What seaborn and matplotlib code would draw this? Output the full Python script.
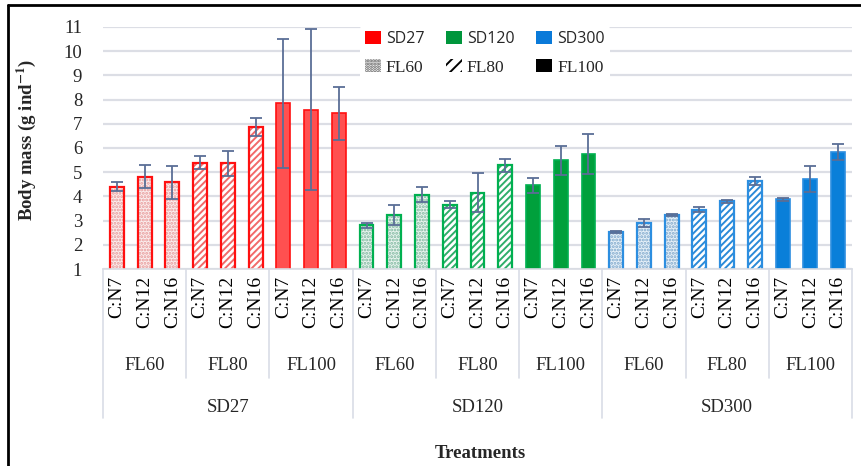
import numpy as np
import pandas as pd
import matplotlib
matplotlib.use("Agg")
import matplotlib.pyplot as plt
import seaborn as sns
from matplotlib.patches import Patch, Rectangle
from matplotlib.lines import Line2D

densities = ["SD27", "SD120", "SD300"]
feeding = ["FL60", "FL80", "FL100"]
cn_ratios = ["C:N7", "C:N12", "C:N16"]

sd27_mean = [4.40, 4.81, 4.58, 5.39, 5.37, 6.86, 7.85, 7.58, 7.43]
sd27_err = [0.18, 0.47, 0.67, 0.27, 0.51, 0.38, 2.67, 3.33, 1.10]
sd120_mean = [2.81, 3.23, 4.06, 3.66, 4.15, 5.28, 4.46, 5.49, 5.75]
sd120_err = [0.10, 0.40, 0.31, 0.15, 0.81, 0.28, 0.31, 0.61, 0.84]
sd300_mean = [2.52, 2.89, 3.23, 3.45, 3.80, 4.65, 3.88, 4.72, 5.83]
sd300_err = [0.05, 0.16, 0.04, 0.10, 0.07, 0.17, 0.05, 0.53, 0.33]

means = [sd27_mean, sd120_mean, sd300_mean]
errs = [sd27_err, sd120_err, sd300_err]

fill_cols = ["#FF5050", "#00A03C", "#0A7FD9"]
edge_cols = ["#FF1010", "#00B050", "#2C8EE0"]
dot_cols = ["#E89A9A", "#7FB8A0", "#7FA8CC"]
stripe_cols = ["#F26A6A", "#2FAE6A", "#2A8AD8"]
tint_cols = ["#FBEDED", "#E8F4EE", "#E6F0F8"]
legend_cols = ["#FF0000", "#00963C", "#0A7AD9"]

rows = []
for i, sd in enumerate(densities):
    for j, fl in enumerate(feeding):
        for k, cn in enumerate(cn_ratios):
            idx = j * 3 + k
            rows.append(dict(id=f"{sd}|{fl}|{cn}", sd=sd, fl=fl, cn=cn,
                             value=means[i][idx], err=errs[i][idx]))
df = pd.DataFrame(rows)
ids = list(df["id"])

sns.set_theme(style="white")
plt.rcParams["hatch.linewidth"] = 1.4
plt.rcParams["mathtext.fontset"] = "stix"
SERIF = ["Liberation Serif", "DejaVu Serif"]

W, H = 861, 466
fig = plt.figure(figsize=(W / 100, H / 100), dpi=100)
x0, x1, ytop, ybot = 103, 852, 27, 269
ax = fig.add_axes([x0 / W, 1 - ybot / H, (x1 - x0) / W, (ybot - ytop) / H])

pal = {r["id"]: fill_cols[densities.index(r["sd"])] for r in rows}
sns.barplot(data=df, x="id", y="value", hue="id", order=ids, hue_order=ids,
            palette=pal, width=0.5, saturation=1, errorbar=None,
            legend=False, ax=ax, zorder=2)

for p in list(ax.patches):
    c = p.get_x() + p.get_width() / 2
    idx = int(round(c))
    i = idx // 9
    j = (idx // 3) % 3
    if j == 2:
        p.set_facecolor(fill_cols[i])
        p.set_edgecolor(edge_cols[i])
        p.set_linewidth(1.2)
        continue
    if j == 1:
        p.set_facecolor("white")
        p.set_edgecolor(stripe_cols[i])
        p.set_hatch("/////")
    else:
        p.set_facecolor(tint_cols[i])
        p.set_edgecolor(dot_cols[i])
        p.set_hatch(".....")
    p.set_linewidth(0)
    outline = Rectangle((p.get_x(), p.get_y()), p.get_width(), p.get_height(),
                        facecolor="none", edgecolor=edge_cols[i], lw=1.6, zorder=2.5)
    ax.add_patch(outline)

pos = np.arange(len(ids))
ax.errorbar(pos, df["value"], yerr=df["err"], fmt="none", ecolor="#5A6E96",
            elinewidth=1.3, capsize=4, capthick=1.3, zorder=3)

ax.set_xlim(-0.5, len(ids) - 0.5)
ax.set_ylim(1, 11)
ax.set_yticks(range(1, 12))
ax.set_yticklabels([str(v) for v in range(1, 12)], family=SERIF, fontsize=13.5)
ax.tick_params(axis="y", length=0, pad=15)
ax.set_xticks([])
ax.set_xlabel("")
ax.set_ylabel("")
ax.grid(axis="y", color="#DCDEE5", linewidth=1.6)
ax.grid(axis="x", visible=False)
ax.set_axisbelow(True)
for s in ["top", "right", "left"]:
    ax.spines[s].set_visible(False)
ax.spines["bottom"].set_color("#D9DCE3")
ax.spines["bottom"].set_linewidth(1.2)

hpx = ybot - ytop
def fr(ypx):
    return (ybot - ypx) / hpx

tr = ax.get_xaxis_transform()
for n, r in enumerate(rows):
    ax.text(n, fr(276), r["cn"], rotation=90, ha="center", va="top",
            family=SERIF, fontsize=14, transform=tr, color="black")
for g in range(9):
    ax.text(g * 3 + 1, fr(365), feeding[g % 3], ha="center", va="center",
            family=SERIF, fontsize=13.5, transform=tr)
for s in range(3):
    ax.text(s * 9 + 4, fr(407), densities[s], ha="center", va="center",
            family=SERIF, fontsize=13.5, transform=tr)

sep_col = "#D9DDE6"
for b in range(0, 28, 3):
    xb = b - 0.5
    ylow = fr(418) if b % 9 == 0 else fr(378)
    ax.add_line(Line2D([xb, xb], [0, ylow], transform=tr, color=sep_col,
                       lw=1.2, clip_on=False))

fig.text(0.031, 1 - 140 / H, r"Body mass (g ind$^{\mathbf{-1}}$)", rotation=90,
         ha="center", va="center", family=SERIF, fontsize=13.5, fontweight="bold")
fig.text(480 / W, 1 - 453 / H, "Treatments", ha="center", va="center",
         family=SERIF, fontsize=13.5, fontweight="bold")

handles = [
    Patch(facecolor=legend_cols[0], edgecolor="none"),
    Patch(facecolor="white", edgecolor="#555555", hatch="......", lw=0),
    Patch(facecolor=legend_cols[1], edgecolor="none"),
    Patch(facecolor="white", edgecolor="black", hatch="///", lw=0),
    Patch(facecolor=legend_cols[2], edgecolor="none"),
    Patch(facecolor="black", edgecolor="none"),
]
labels = ["SD27", "FL60", "SD120", "FL80", "SD300", "FL100"]
leg = fig.legend(handles, labels, ncol=3, loc="upper left",
                 bbox_to_anchor=(360 / W, 1 - 26 / H), bbox_transform=fig.transFigure,
                 frameon=True, fontsize=12, handlelength=0.95, handleheight=0.85,
                 handletextpad=0.3, columnspacing=1.3, labelspacing=0.7,
                 borderpad=0.3, borderaxespad=0)
leg.get_frame().set_facecolor("white")
leg.get_frame().set_edgecolor("none")
leg.get_frame().set_alpha(1)
for t in leg.get_texts():
    if t.get_text().startswith("SD"):
        t.set_family(["Open Sans", "DejaVu Sans"])
        t.set_fontsize(11.5)
    else:
        t.set_family(SERIF)
        t.set_fontsize(12.5)

fig.add_artist(Line2D([8 / W, 8 / W], [0, 1 - 5 / H], color="black", lw=2,
                      transform=fig.transFigure))
fig.add_artist(Line2D([8 / W, 1], [1 - 5 / H, 1 - 5 / H], color="black", lw=2,
                      transform=fig.transFigure))

fig.savefig("out.png", dpi=100, facecolor="white")
